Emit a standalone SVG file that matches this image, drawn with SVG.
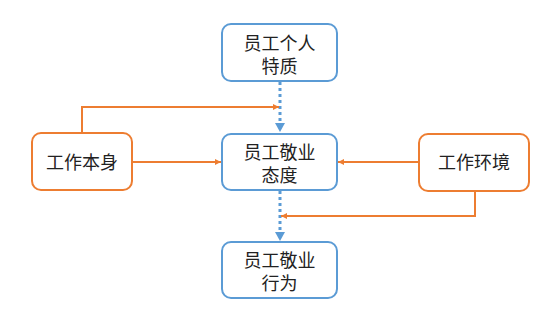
<svg xmlns="http://www.w3.org/2000/svg" width="560" height="322" viewBox="0 0 560 322">
<style>
.blue{fill:#fff;stroke:#5B9BD5;stroke-width:2}
.orange{fill:#fff;stroke:#ED7D31;stroke-width:2}
.t{font-family:"Liberation Sans","Noto Sans CJK SC",sans-serif;font-size:18px;fill:#222;text-anchor:middle}
.oc{fill:none;stroke:#ED7D31;stroke-width:2}
.bc{fill:none;stroke:#5B9BD5;stroke-width:3;stroke-dasharray:3 3}
.bh{fill:#5B9BD5}
</style>
<defs>
<marker id="ao" viewBox="0 0 10 10" refX="10" refY="5" markerWidth="6" markerHeight="6" orient="auto" markerUnits="userSpaceOnUse">
<path d="M0,0L10,5L0,10z" fill="#ED7D31"/>
</marker>
</defs>
<g id="connectors">
<path class="bc" d="M280,82V124"/>
<path class="bh" d="M275,123L285,123L280,132z"/>
<path class="bc" d="M280,191V232"/>
<path class="bh" d="M275,232L285,232L280,241z"/>
<path class="oc" d="M82,133V107H279" marker-end="url(#ao)"/>
<path class="oc" d="M132,162H221" marker-end="url(#ao)"/>
<path class="oc" d="M419,162H338" marker-end="url(#ao)"/>
<path class="oc" d="M475,191V216H281" marker-end="url(#ao)"/>
</g>
<g id="n1"><rect class="blue" x="222" y="24" width="115" height="57" rx="9"/>
<text class="t" x="279.5" y="50">员工个人</text><text class="t" x="279.5" y="73">特质</text></g>
<g id="n2"><rect class="blue" x="222" y="134" width="115" height="56" rx="9"/>
<text class="t" x="279.5" y="159">员工敬业</text><text class="t" x="279.5" y="182">态度</text></g>
<g id="n3"><rect class="blue" x="222" y="242" width="115" height="56" rx="9"/>
<text class="t" x="279.5" y="267">员工敬业</text><text class="t" x="279.5" y="290">行为</text></g>
<g id="n4"><rect class="orange" x="32" y="133" width="100" height="57" rx="9"/>
<text class="t" x="82" y="169">工作本身</text></g>
<g id="n5"><rect class="orange" x="419" y="134" width="110" height="57" rx="9"/>
<text class="t" x="474" y="169">工作环境</text></g>
</svg>
